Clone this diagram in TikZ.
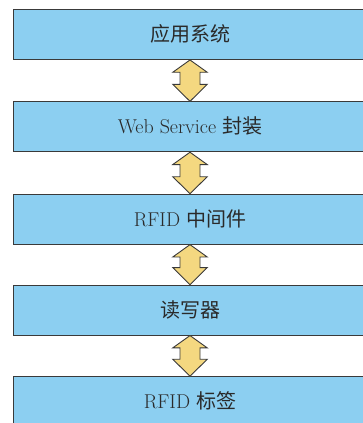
\documentclass[tikz,border=0pt]{standalone}
\usepackage{fontspec}
\newfontfamily\cjk{Noto Sans CJK SC}
\definecolor{boxblue}{HTML}{8CCFF1}
\definecolor{arrowyellow}{HTML}{F4D880}
\definecolor{edgegray}{HTML}{3A3A3A}
\definecolor{textgray}{HTML}{2A2A2A}
\newcommand{\lifttxt}[1]{\raisebox{3pt}{#1}}
\tikzset{
  layerbox/.style={draw=edgegray, line width=0.9pt, fill=boxblue, rectangle,
    minimum width=354pt, minimum height=50pt, inner sep=0pt,
    text=textgray, font=\fontsize{20}{24}\selectfont},
  dblarrow/.style={draw=edgegray, line width=0.9pt, fill=arrowyellow, line join=miter}
}
\begin{document}
\begin{tikzpicture}[x=1pt,y=1pt]
\useasboundingbox (0,0) rectangle (363,-423);
\clip (0,0) rectangle (363,-423);
\node[layerbox] (app)  at (190,-34.5)  {\lifttxt{\cjk 应用系统}};
\node[layerbox] (ws)   at (190,-126.8) {\lifttxt{Web Service {\cjk 封装}}};
\node[layerbox] (mid)  at (190,-219.2) {\lifttxt{RFID {\cjk 中间件}}};
\node[layerbox] (rd)   at (190,-310.1) {\lifttxt{\cjk 读写器}};
\node[layerbox] (tag)  at (190,-401.7) {\lifttxt{RFID {\cjk 标签}}};
\foreach \a/\b in {app/ws, ws/mid, mid/rd, rd/tag}{
  \draw[dblarrow] (\a.south)
    -- ([shift={(17.2,-12.3)}]\a.south)
    -- ([shift={(10,-12.3)}]\a.south)
    -- ([shift={(10,17)}]\b.north)
    -- ([shift={(17.2,17)}]\b.north)
    -- (\b.north)
    -- ([shift={(-17.2,17)}]\b.north)
    -- ([shift={(-10,17)}]\b.north)
    -- ([shift={(-10,-12.3)}]\a.south)
    -- ([shift={(-17.2,-12.3)}]\a.south)
    -- cycle;
}
\end{tikzpicture}
\end{document}
